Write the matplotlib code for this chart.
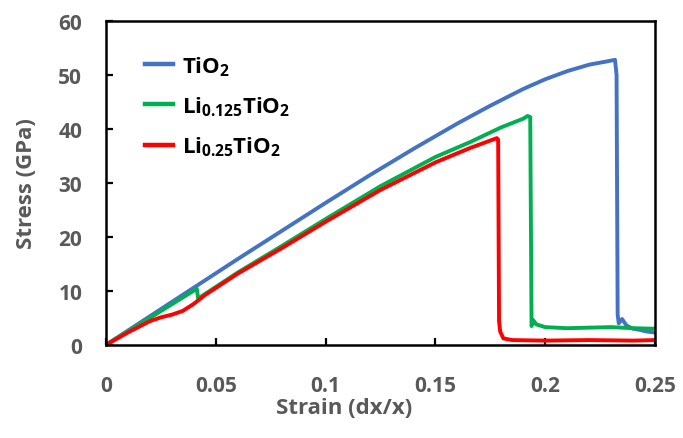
import matplotlib
matplotlib.use('Agg')
import matplotlib.pyplot as plt

plt.rcParams['font.family'] = ['Open Sans', 'DejaVu Sans']
plt.rcParams['font.weight'] = 'bold'
plt.rcParams['mathtext.fontset'] = 'custom'
plt.rcParams['mathtext.rm'] = 'Open Sans:bold'
plt.rcParams['mathtext.bf'] = 'Open Sans:bold'
plt.rcParams['mathtext.it'] = 'Open Sans:bold'

# data #############################################
blue_x = [0, 0.02, 0.04, 0.06, 0.08, 0.10, 0.12, 0.14, 0.16, 0.175, 0.19, 0.20, 0.21, 0.22, 0.228, 0.2318,
          0.2325, 0.233, 0.2335, 0.235, 0.237, 0.24, 0.243, 0.246, 0.25]
blue_y = [0, 5.3, 10.6, 15.9, 21.1, 26.3, 31.4, 36.3, 41.0, 44.3, 47.4, 49.2, 50.7, 51.9, 52.5, 52.8,
          50.0, 5.6, 4.0, 4.8, 3.6, 3.0, 2.8, 2.5, 2.3]

green_x = [0, 0.02, 0.0414, 0.042, 0.045, 0.06, 0.08, 0.10, 0.125, 0.15, 0.166, 0.18, 0.19, 0.192,
           0.1932, 0.1938, 0.1945, 0.196, 0.2, 0.21, 0.22, 0.23, 0.24, 0.25]
green_y = [0, 5.0, 10.4, 8.6, 9.4, 13.4, 18.3, 23.3, 29.4, 34.8, 37.6, 40.3, 41.9, 42.4,
           42.2, 3.5, 4.6, 3.8, 3.3, 3.1, 3.2, 3.3, 3.1, 3.0]

red_x = [0, 0.01, 0.02, 0.025, 0.03, 0.035, 0.04, 0.045, 0.06, 0.08, 0.10, 0.125, 0.15, 0.166, 0.178,
         0.1786, 0.179, 0.1795, 0.181, 0.185, 0.2, 0.22, 0.24, 0.25]
red_y = [0, 2.3, 4.4, 5.1, 5.6, 6.3, 7.6, 9.2, 13.2, 17.9, 22.8, 28.7, 33.8, 36.5, 38.3,
         38.0, 4.4, 2.5, 1.2, 0.9, 0.8, 0.9, 0.8, 0.9]

labels = [r'TiO$_2$', r'Li$_{0.125}$TiO$_2$', r'Li$_{0.25}$TiO$_2$']
x_ticks = [0, 0.05, 0.1, 0.15, 0.2, 0.25]
x_ticklabels = ['0', '0.05', '0.1', '0.15', '0.2', '0.25']
y_ticks = [0, 10, 20, 30, 40, 50, 60]

gray = '#595959'

fig = plt.figure(figsize=(6.83, 4.39), dpi=100)
ax = fig.add_axes([0.155, 0.212, 0.804, 0.738])

ax.plot(blue_x, blue_y, color='#4472C4', lw=2.8, label=labels[0])
ax.plot(green_x, green_y, color='#00B050', lw=2.8, label=labels[1])
ax.plot(red_x, red_y, color='#FF0000', lw=2.8, label=labels[2])

ax.set_xlim(0, 0.25)
ax.set_ylim(0, 60)
ax.set_xticks(x_ticks)
ax.set_xticklabels(x_ticklabels)
ax.set_yticks(y_ticks)

for s in ax.spines.values():
    s.set_linewidth(1.8)
    s.set_color('black')
ax.tick_params(axis='both', direction='in', length=5, width=1.6, labelsize=15, labelcolor=gray)
ax.tick_params(axis='x', pad=22)
ax.tick_params(axis='y', pad=17)

ax.set_xlabel('Strain (dx/x)', fontsize=16, color=gray, fontweight='bold')
ax.set_ylabel('Stress (GPa)', fontsize=16, color=gray, fontweight='bold')
ax.xaxis.set_label_coords(0.434, -0.194)
ax.yaxis.set_label_coords(-0.144, 0.5)
ax.xaxis.label.set_va('center')
ax.yaxis.label.set_va('center')

leg = ax.legend(loc='upper left', bbox_to_anchor=(0.035, 0.96), frameon=False, fontsize=16,
                handlelength=1.25, handletextpad=0.4, labelspacing=0.75)
for line in leg.get_lines():
    line.set_linewidth(3.2)
for t in leg.get_texts():
    t.set_color('black')

fig.savefig('out.png', dpi=100)
